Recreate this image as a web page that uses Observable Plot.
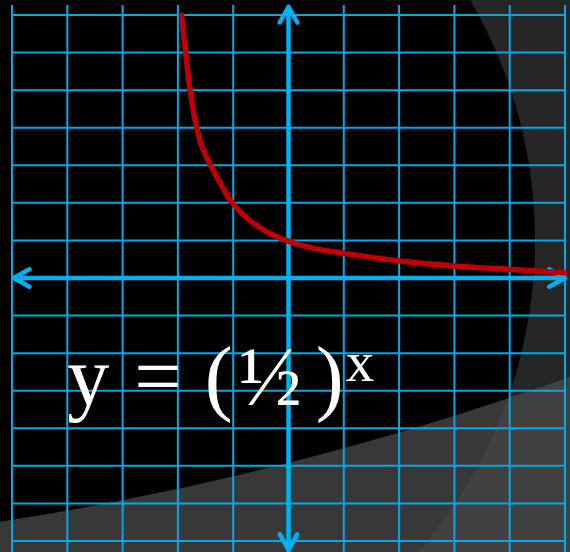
<!DOCTYPE html>
<html>
<head>
<meta charset="utf-8">
<script src="https://cdn.jsdelivr.net/npm/d3@7"></script>
<script src="https://cdn.jsdelivr.net/npm/@observablehq/plot@0.6"></script>
<style>
  html, body { margin: 0; padding: 0; background: #000; }
  #chart { position: relative; width: 570px; height: 552px; overflow: hidden; background: #000; }
  #chart > svg { position: absolute; left: 0; top: 0; }
</style>
</head>
<body>
<div id="chart"></div>
<script>
// Grid positions (one unit per cell)
const gridX = [-5, -4, -3, -2, -1, 0, 1, 2, 3, 4, 5];
const gridY = [-7, -6, -5, -4, -3, -2, -1, 1, 2, 3, 4, 5, 6, 7];

// Points along the exponential decay curve y = (1/2)^x
const curveX = [-1.935, -1.86, -1.78, -1.66, -1.564, -1.41, -1.2, -1.02, -0.75, -0.39, -0.02, 0.22, 0.46, 1, 2, 3, 4, 5];
const curveY = [7.0, 6.0, 5.0, 3.99, 3.49, 3.0, 2.43, 2.0, 1.59, 1.23, 0.99, 0.88, 0.79, 0.66, 0.45, 0.32, 0.23, 0.14];

// Axis arrows drawn outward from the origin
const axisEndX = [-4.97, 5.0, 0, 0];
const axisEndY = [0, 0, 7.22, -7.24];

// Formula label: y = (½)^x
const formulaParts = ["y = ", "(", "½", ")"];
const formulaExp = "x";

const curve = curveX.map((x, i) => ({x, y: curveY[i]}));
const axes = axisEndX.map((x, i) => ({x1: 0, y1: 0, x2: x, y2: axisEndY[i]}));

const W = 570, H = 552;
const chart = d3.select("#chart");

// Decorative backdrop: two large circles cut out of grey layers
const bg = chart.append("svg").attr("width", W).attr("height", H);
const ring = (cx, cy, r) => `M${cx - r},${cy}a${r},${r} 0 1,0 ${2 * r},0a${r},${r} 0 1,0 ${-2 * r},0Z`;
const frame = `M0,0H${W}V${H}H0Z`;
bg.append("path")
  .attr("d", frame + ring(59, 240, 476))
  .attr("fill-rule", "evenodd")
  .attr("fill", "#262626");
bg.append("path")
  .attr("d", frame + ring(-480, -2559, 3118))
  .attr("fill-rule", "evenodd")
  .attr("fill", "#4c4c4c")
  .attr("fill-opacity", 0.74);

const blue = "#00b0f0";
const fullFormula = formulaParts.join("") + formulaExp;

const plot = Plot.plot({
  width: W,
  height: H,
  marginLeft: 11.5,
  marginRight: 5.5,
  marginTop: 14.5,
  marginBottom: 11.5,
  x: {domain: [-5, 5], axis: null},
  y: {domain: [-7, 7], axis: null},
  style: {background: "transparent", overflow: "visible"},
  marks: [
    Plot.ruleX(gridX, {x: d => d, y1: 7.25, y2: -7.32, stroke: "#05a8e6", strokeWidth: 2}),
    Plot.ruleY(gridY, {y: d => d, stroke: "#05a8e6", strokeWidth: 2}),
    Plot.arrow(axes, {
      x1: "x1", y1: "y1", x2: "x2", y2: "y2",
      stroke: blue, strokeWidth: 4.5, headLength: 6, headAngle: 58,
      strokeLinecap: "round", strokeLinejoin: "round"
    }),
    Plot.line(curve, {x: "x", y: "y", curve: "catmull-rom", stroke: "#c00000", strokeWidth: 5.5}),
    Plot.text([fullFormula], {
      x: () => -4, y: () => -3.38, text: d => d,
      textAnchor: "start", lineAnchor: "bottom",
      fontFamily: "Liberation Serif", fontSize: 84, fill: "white"
    })
  ]
});

// Set the formula with spacing between its pieces and a raised exponent
const spacing = [0, -2, 4, 12];
const ft = d3.select(plot).selectAll("text").filter(function() { return this.textContent === fullFormula; });
ft.text(null).style("letter-spacing", "2px");
formulaParts.forEach((p, i) => ft.append("tspan").attr("dx", spacing[i]).text(p));
ft.append("tspan").attr("dx", 0).attr("dy", -24).attr("font-size", 57).text(formulaExp);

chart.node().appendChild(plot);
</script>
</body>
</html>
